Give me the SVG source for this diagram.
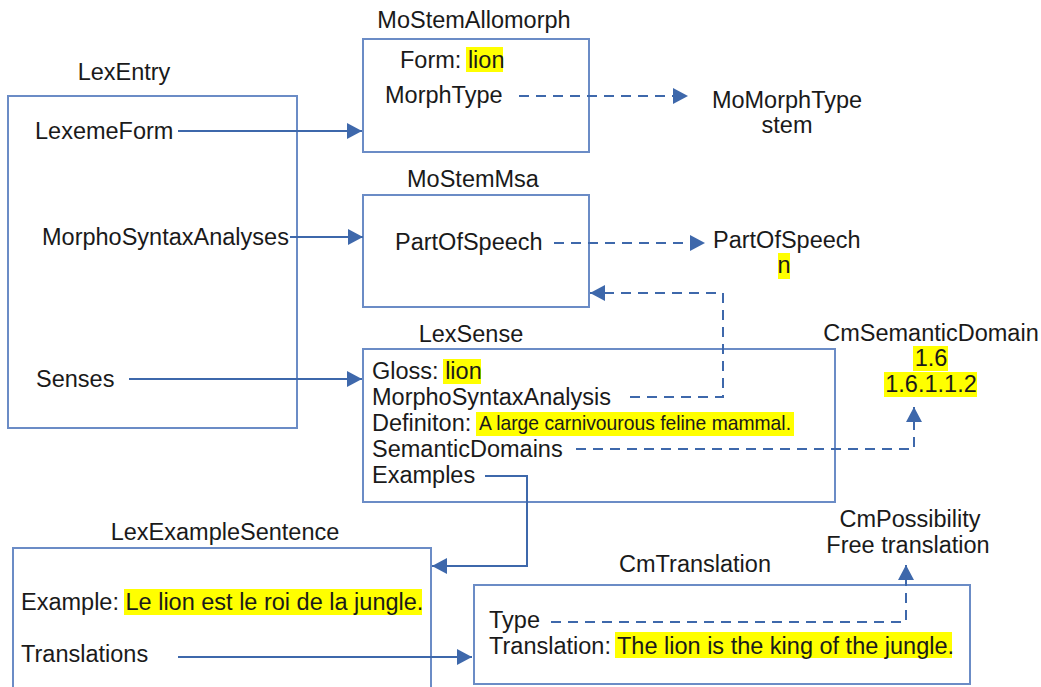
<svg xmlns="http://www.w3.org/2000/svg" width="1041" height="687" viewBox="0 0 1041 687">
<style>
text{font-family:"Liberation Sans",Arial,sans-serif;font-size:23.5px;fill:#1a1a1a}
.t{text-anchor:middle}
.box{fill:none;stroke:#6b8cc6;stroke-width:2}
.hl{fill:#ffff00}
.c{fill:none;stroke:#3e68ab;stroke-width:2}
.d{stroke-dasharray:10,7}
</style>
<defs>
<marker id="ah" markerWidth="16" markerHeight="16" refX="15" refY="8" orient="auto" markerUnits="userSpaceOnUse">
<path d="M0,0 L15,8 L0,16 Z" fill="#3e68ab"/>
</marker>
</defs>
<rect width="1041" height="687" fill="#ffffff"/>
<g id="LexEntry">
<text class="t" x="124" y="80">LexEntry</text>
<rect class="box" x="8" y="96" width="289" height="332"/>
<text x="35" y="139">LexemeForm</text>
<text x="42" y="245">MorphoSyntaxAnalyses</text>
<text x="36" y="387">Senses</text>
</g>
<g id="MoStemAllomorph">
<text class="t" x="474" y="28">MoStemAllomorph</text>
<rect class="box" x="363" y="39" width="226" height="113"/>
<rect class="hl" x="466" y="47" width="37" height="25"/>
<text x="400" y="68">Form: lion</text>
<text x="385" y="103">MorphType</text>
</g>
<g id="MoMorphType">
<text class="t" x="787" y="108">MoMorphType</text>
<text class="t" x="787" y="133">stem</text>
</g>
<g id="MoStemMsa">
<text class="t" x="473" y="187">MoStemMsa</text>
<rect class="box" x="363" y="195" width="226" height="112"/>
<text x="395" y="250">PartOfSpeech</text>
</g>
<g id="PartOfSpeech">
<text x="713" y="248">PartOfSpeech</text>
<rect class="hl" x="778" y="253" width="12" height="26"/>
<text class="t" x="784" y="273">n</text>
</g>
<g id="LexSense">
<text class="t" x="471" y="342">LexSense</text>
<rect class="box" x="363" y="349" width="472" height="153"/>
<rect class="hl" x="443" y="359" width="38" height="25"/>
<text x="372" y="379">Gloss: lion</text>
<text x="372" y="405">MorphoSyntaxAnalysis</text>
<text x="372" y="431">Definiton: </text>
<rect class="hl" x="476" y="412" width="318" height="24"/>
<text x="479" y="430" style="font-size:21px" textLength="312" lengthAdjust="spacingAndGlyphs">A large carnivourous feline mammal.</text>
<text x="372" y="457">SemanticDomains</text>
<text x="372" y="483">Examples</text>
</g>
<g id="CmSemanticDomain">
<text class="t" x="931" y="341">CmSemanticDomain</text>
<rect class="hl" x="913" y="346" width="35" height="25"/>
<text class="t" x="931" y="366">1.6</text>
<rect class="hl" x="884" y="372" width="93" height="25"/>
<text class="t" x="931" y="392">1.6.1.1.2</text>
</g>
<g id="LexExampleSentence">
<text class="t" x="225" y="540">LexExampleSentence</text>
<rect class="box" x="13" y="548" width="418" height="160"/>
<rect class="hl" x="124" y="589" width="298" height="26"/>
<text x="21" y="610">Example: Le lion est le roi de la jungle.</text>
<text x="21" y="662">Translations</text>
</g>
<g id="CmTranslation">
<text class="t" x="695" y="572">CmTranslation</text>
<rect class="box" x="474" y="585" width="496" height="99"/>
<text x="489" y="628">Type</text>
<rect class="hl" x="615" y="632" width="337" height="26"/>
<text x="489" y="654">Translation: The lion is the king of the jungle.</text>
</g>
<g id="CmPossibility">
<text class="t" x="910" y="527">CmPossibility</text>
<text class="t" x="908" y="553">Free translation</text>
</g>
<g id="connectors">
<path class="c" d="M178,131 H362" marker-end="url(#ah)"/>
<path class="c" d="M290,237 H363" marker-end="url(#ah)"/>
<path class="c" d="M129,379 H362" marker-end="url(#ah)"/>
<path class="c d" d="M519,96 H688" marker-end="url(#ah)"/>
<path class="c d" d="M554,243 H705" marker-end="url(#ah)"/>
<path class="c d" d="M630,397 H723 V293 H590" marker-end="url(#ah)"/>
<path class="c d" d="M576,449 H914 V407" marker-end="url(#ah)"/>
<path class="c" d="M485,476 H527 V566 H432" marker-end="url(#ah)"/>
<path class="c" d="M178,657 H472" marker-end="url(#ah)"/>
<path class="c d" d="M551,622 H906 V565" marker-end="url(#ah)"/>
</g>
</svg>
